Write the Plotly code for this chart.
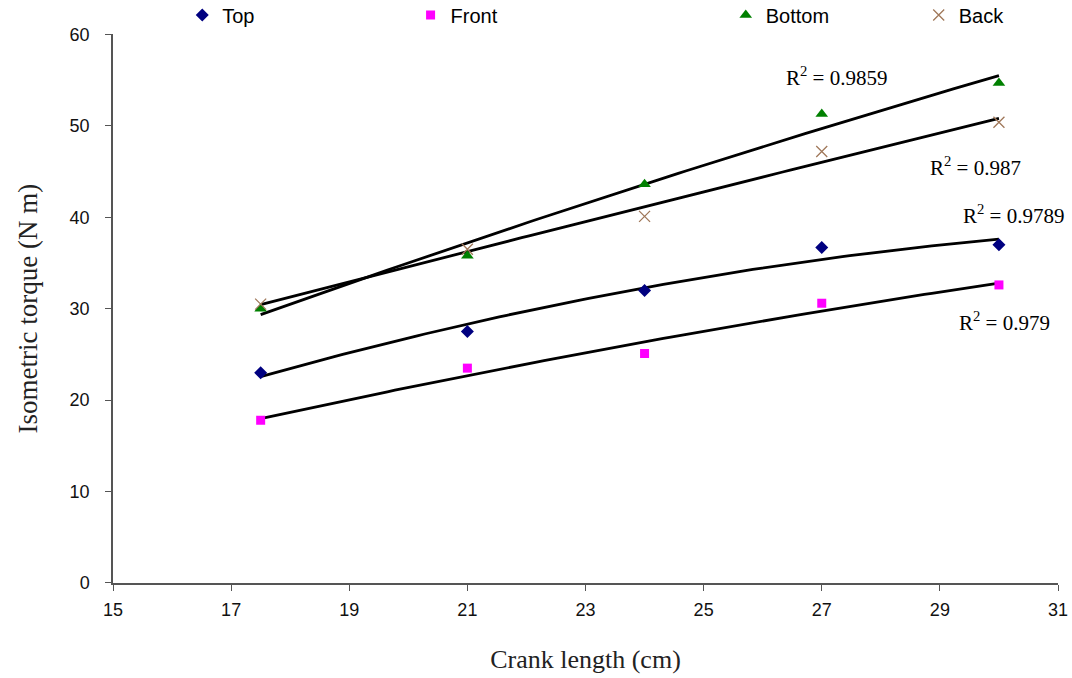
import numpy as np
import plotly.graph_objects as go

crank = [17.5, 21, 24, 27, 30]
top = [23.0, 27.5, 32.0, 36.7, 37.0]
front = [17.8, 23.5, 25.1, 30.6, 32.6]
bottom = [30.0, 35.8, 43.6, 51.3, 54.7]
back = [30.5, 36.5, 40.1, 47.2, 50.4]

names = ["Top", "Front", "Bottom", "Back"]
r2_labels = ["R<sup>2</sup> = 0.9789", "R<sup>2</sup> = 0.979", "R<sup>2</sup> = 0.9859", "R<sup>2</sup> = 0.987"]
r2_pos = [(30.25, 40.3), (30.1, 28.6), (27.25, 55.4), (29.6, 45.6)]

series = [top, front, bottom, back]
markers = [
    dict(symbol="diamond", color="#000080", size=10),
    dict(symbol="square", color="#FF00FF", size=9),
    dict(symbol="triangle-up", color="#008000", size=11),
    dict(symbol="x-thin-open", color="#A0785A", size=11, line=dict(color="#A0785A", width=1.3)),
]
legend_x = [0.170, 0.383, 0.677, 0.857]

fig = go.Figure()
xs = np.linspace(min(crank), max(crank), 100)
for i, (name, ys) in enumerate(zip(names, series)):
    coef = np.polyfit(crank, ys, 2)
    fig.add_trace(go.Scatter(x=xs, y=np.polyval(coef, xs), mode="lines",
                             line=dict(color="black", width=2.8), showlegend=False, hoverinfo="skip"))
for i, (name, ys) in enumerate(zip(names, series)):
    lg = "legend" if i == 0 else f"legend{i+1}"
    fig.add_trace(go.Scatter(x=crank, y=ys, mode="markers", name=name, marker=markers[i], legend=lg))

for lab, (ax, ay) in zip(r2_labels, r2_pos):
    fig.add_annotation(x=ax, y=ay, text=lab, showarrow=False,
                       font=dict(family="Liberation Serif", size=21, color="black"))

legend_common = dict(orientation="h", yanchor="middle", xanchor="left",
                     xref="container", yref="container",
                     font=dict(family="Liberation Sans", size=20, color="black"),
                     bgcolor="rgba(0,0,0,0)", itemwidth=30)
layout_legends = {}
for i in range(4):
    key = "legend" if i == 0 else f"legend{i+1}"
    layout_legends[key] = dict(legend_common, x=legend_x[i], y=0.978)

axis_common = dict(showline=True, linecolor="#555", linewidth=1.5, ticks="outside", ticklen=6,
                   tickcolor="#555", showgrid=False, zeroline=False, automargin=False,
                   tickfont=dict(family="Liberation Sans", size=18, color="#111"))
fig.update_layout(
    width=1072, height=678, plot_bgcolor="white", paper_bgcolor="white",
    margin=dict(l=113, r=14, t=29, b=95),
    xaxis=dict(axis_common, range=[15, 31], tickvals=list(range(15, 32, 2)), ticklabelstandoff=4,
               title=dict(text="Crank length (cm)", font=dict(family="Liberation Serif", size=26, color="#222"), standoff=30)),
    yaxis=dict(axis_common, range=[0, 60], tickvals=list(range(0, 61, 10)), ticklabelstandoff=12,
               title=dict(text="Isometric torque (N m)", font=dict(family="Liberation Serif", size=27, color="#222"), standoff=24)),
    **layout_legends,
)
fig.write_html("out.html", config={"displayModeBar": False},
               post_script="document.body.style.margin='0';")
